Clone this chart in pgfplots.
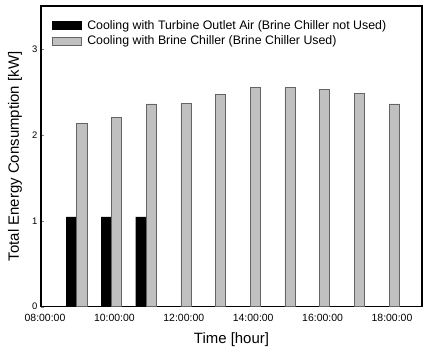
\documentclass[border=0pt]{standalone}
\usepackage{fontspec}
\setmainfont{Liberation Sans}
\usepackage{pgfplots}
\pgfplotsset{compat=1.18}
\definecolor{barGray}{RGB}{192,192,192}
\definecolor{edgeGray}{RGB}{100,100,100}
\begin{document}
\begin{tikzpicture}
\path[use as bounding box] (-41bp,-52.3bp) rectangle (387bp,306.7bp);
\begin{axis}[
  at={(0,0)}, anchor=south west,
  width=381bp, height=300.7bp, scale only axis,
  xmin=7.885, xmax=18.865,
  ymin=0, ymax=3.5,
  xtick={8,10,12,14,16,18},
  xticklabels={08:00:00,10:00:00,12:00:00,14:00:00,16:00:00,18:00:00},
  ytick={0,1,2,3},
  /pgf/number format/assume math mode=true,
  x tick label style={font=\fontsize{10.5}{12}\selectfont, yshift=-1bp},
  y tick label style={font=\fontsize{9.5}{11}\selectfont},
  major x tick style={draw=none},
  major tick length=3bp,
  tick align=inside,
  ytick pos=left,
  axis line style={line width=1.2pt},
  xlabel={Time [hour]},
  ylabel={Total Energy Consumption [kW]},
  xlabel style={font=\fontsize{15}{17}\selectfont, at={(axis description cs:0.5,-0.111)}, anchor=center},
  ylabel style={font=\fontsize{15}{17}\selectfont, at={(axis description cs:-0.068,0.5)}, anchor=center},
  legend style={at={(axis description cs:0.02,0.967)}, anchor=north west, draw=none, fill=none,
    font=\fontsize{12.4}{14}\selectfont, row sep=1bp},
  legend cell align=left,
  ybar, bar width=0.29,
]
\addplot[fill=black, draw=black, bar shift=-0.24,
  legend image code/.code={\draw[fill=black,draw=black] (0bp,-4bp) rectangle (29bp,4bp); \path (33bp,0bp);}]
  coordinates {(9,1.045) (10,1.045) (11,1.045)};
\addlegendentry{Cooling with Turbine Outlet Air (Brine Chiller not Used)}
\addplot[fill=barGray, draw=edgeGray, line width=0.5pt, bar shift=0.06,
  legend image code/.code={\draw[fill=barGray,draw=edgeGray] (0bp,-4bp) rectangle (29bp,4bp); \path (33bp,0bp);}]
  coordinates {(9,2.13) (10,2.20) (11,2.36) (12,2.37) (13,2.47) (14,2.55) (15,2.55) (16,2.53) (17,2.48) (18,2.36)};
\addlegendentry{Cooling with Brine Chiller (Brine Chiller Used)}
\end{axis}
\end{tikzpicture}
\end{document}
